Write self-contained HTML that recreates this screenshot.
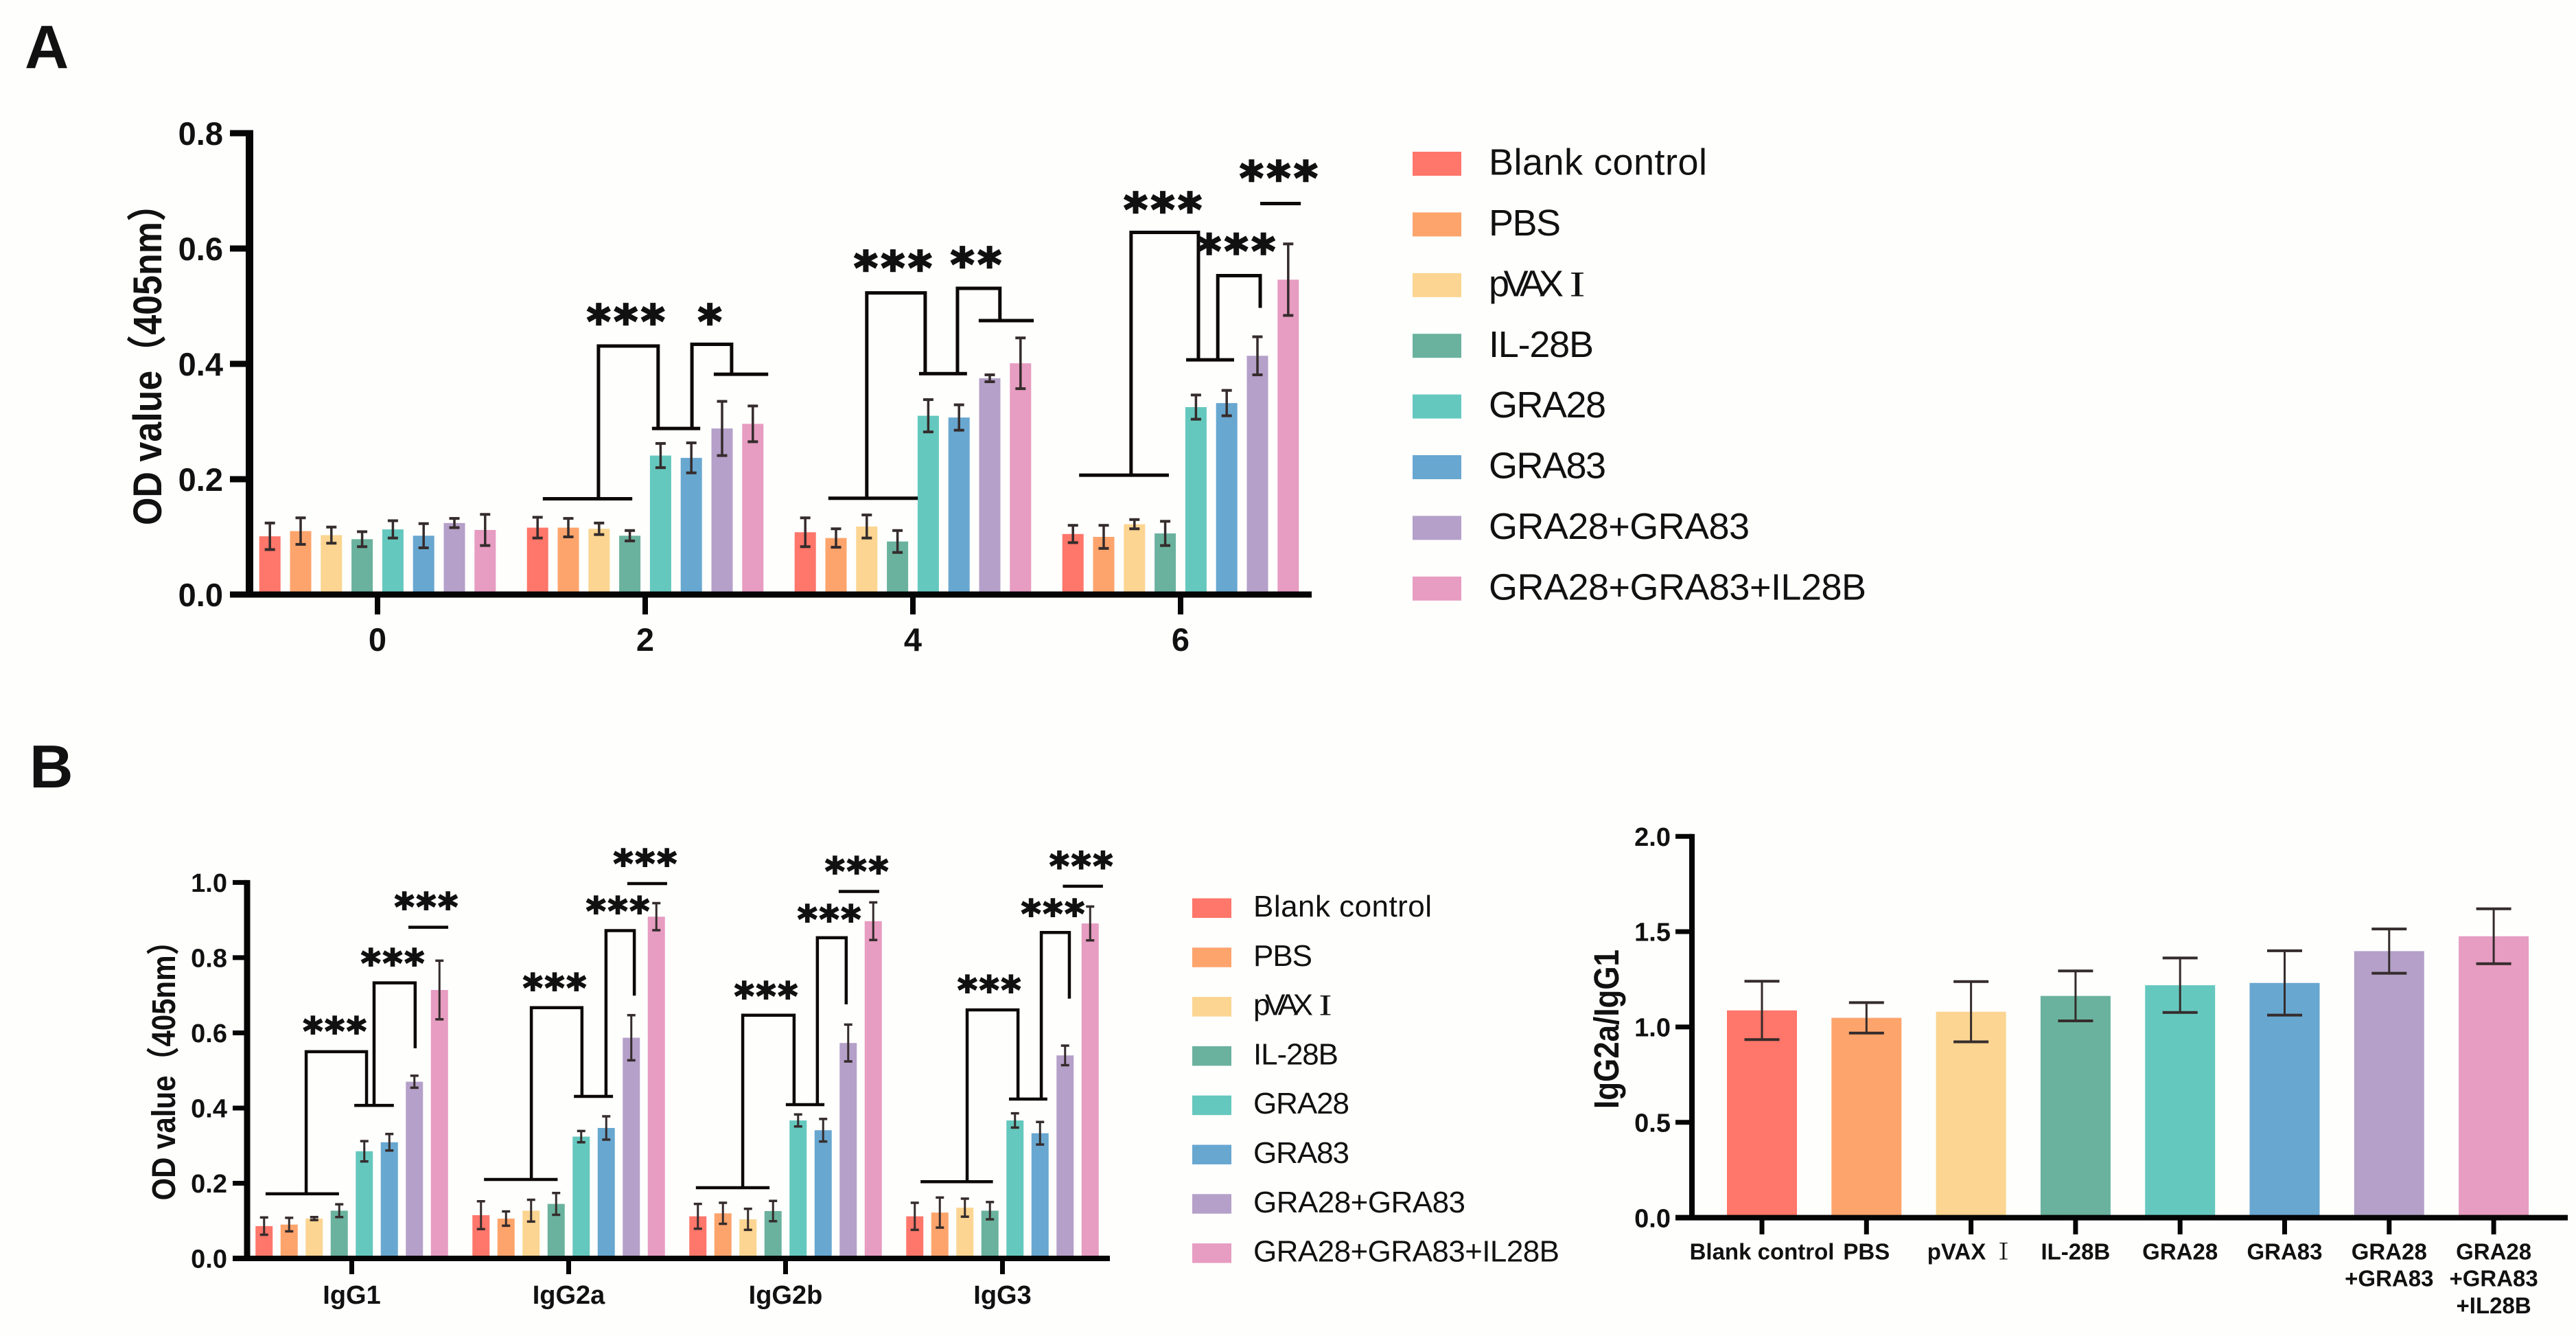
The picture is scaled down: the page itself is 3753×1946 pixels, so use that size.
<!DOCTYPE html>
<html lang="en">
<head>
<meta charset="utf-8">
<title>OD value bar charts</title>
<style>
html,body{margin:0;padding:0;background:#fefefd;}
svg{display:block;}
text{font-family:"Liberation Sans","Noto Sans CJK SC",sans-serif;fill:#111;}
.b{font-weight:bold;}
.la{font-size:54px;}
.lb{font-size:44px;}
.numeral{font-family:"Noto Serif CJK SC",serif;font-weight:bold;}
</style>
</head>
<body>
<svg id="figure" xmlns="http://www.w3.org/2000/svg" width="3753" height="1946" viewBox="0 0 3753 1946">
  <rect x="0" y="0" width="3753" height="1946" fill="#fefefd"/>
  <text class="b" x="36" y="99" font-size="89">A</text>
  <text class="b" x="43" y="1147" font-size="88">B</text>

  <text class="b" font-size="52" text-anchor="middle" transform="translate(235 518) rotate(-90) scale(1 1.12)">OD value（405nm）</text>
  <text class="b" font-size="42" text-anchor="middle" transform="translate(255 1549) rotate(-90) scale(1 1.15)">OD value（405nm）</text>
  <text class="b" font-size="44" text-anchor="middle" textLength="232" lengthAdjust="spacingAndGlyphs" transform="translate(2358 1499) rotate(-90) scale(1 1.15)">IgG2a/IgG1</text>

  <g>
    <rect x="2058" y="221" width="71" height="35" fill="#FF766A"/>
    <text class="la" x="2169" y="254.6" textLength="318">Blank control</text>
    <rect x="2058" y="309.4" width="71" height="35" fill="#FDA46C"/>
    <text class="la" x="2169" y="343" textLength="105">PBS</text>
    <rect x="2058" y="397.8" width="71" height="35" fill="#FBD591"/>
    <text class="la" x="2169" y="431.4" textLength="109">pVAX</text>
    <text class="numeral" font-size="46" text-anchor="middle" x="2298" y="431.4">Ⅰ</text>
    <rect x="2058" y="486.2" width="71" height="35" fill="#6AB29E"/>
    <text class="la" x="2169" y="519.8" textLength="153">IL-28B</text>
    <rect x="2058" y="574.6" width="71" height="35" fill="#65C8BE"/>
    <text class="la" x="2169" y="608.2" textLength="171">GRA28</text>
    <rect x="2058" y="663" width="71" height="35" fill="#68A7D0"/>
    <text class="la" x="2169" y="696.6" textLength="171">GRA83</text>
    <rect x="2058" y="751.4" width="71" height="35" fill="#B5A0C9"/>
    <text class="la" x="2169" y="785" textLength="380">GRA28+GRA83</text>
    <rect x="2058" y="839.8" width="71" height="35" fill="#E79CC1"/>
    <text class="la" x="2169" y="873.4" textLength="550">GRA28+GRA83+IL28B</text>
  </g>

  <g>
    <rect x="1737" y="1308.5" width="57" height="28.5" fill="#FF766A"/>
    <text class="lb" x="1826" y="1335" textLength="260">Blank control</text>
    <rect x="1737" y="1380.3" width="57" height="28.5" fill="#FDA46C"/>
    <text class="lb" x="1826" y="1406.8" textLength="86">PBS</text>
    <rect x="1737" y="1452.1" width="57" height="28.5" fill="#FBD591"/>
    <text class="lb" x="1826" y="1478.6" textLength="87">pVAX</text>
    <text class="numeral" font-size="38" text-anchor="middle" x="1931" y="1478.6">Ⅰ</text>
    <rect x="1737" y="1523.9" width="57" height="28.5" fill="#6AB29E"/>
    <text class="lb" x="1826" y="1550.4" textLength="124">IL-28B</text>
    <rect x="1737" y="1595.7" width="57" height="28.5" fill="#65C8BE"/>
    <text class="lb" x="1826" y="1622.2" textLength="140">GRA28</text>
    <rect x="1737" y="1667.5" width="57" height="28.5" fill="#68A7D0"/>
    <text class="lb" x="1826" y="1694" textLength="140">GRA83</text>
    <rect x="1737" y="1739.3" width="57" height="28.5" fill="#B5A0C9"/>
    <text class="lb" x="1826" y="1765.8" textLength="309">GRA28+GRA83</text>
    <rect x="1737" y="1811.1" width="57" height="28.5" fill="#E79CC1"/>
    <text class="lb" x="1826" y="1837.6" textLength="446">GRA28+GRA83+IL28B</text>
  </g>

  <g id="chart-a"></g>
  <g id="chart-b"></g>
  <g id="chart-c"></g>
</svg>

<script>
// ---- shared series palette ----
const palette = ['#FF766A','#FDA46C','#FBD591','#6AB29E','#65C8BE','#68A7D0','#B5A0C9','#E79CC1'];

// ---- chart A data ----
const aCategories = ['0','2','4','6'];
const aTicks = ['0.0','0.2','0.4','0.6','0.8'];
const aMeans0 = [.101,.110,.103,.096,.113,.102,.124,.112];
const aErrs0  = [.023,.023,.014,.013,.015,.021,.008,.027];
const aMeans2 = [.116,.116,.114,.102,.241,.237,.288,.296];
const aErrs2  = [.018,.016,.010,.009,.021,.026,.047,.031];
const aMeans4 = [.108,.098,.118,.092,.310,.307,.375,.401];
const aErrs4  = [.025,.016,.020,.019,.028,.022,.006,.044];
const aMeans6 = [.105,.100,.122,.106,.325,.332,.414,.546];
const aErrs6  = [.015,.020,.008,.021,.021,.022,.033,.062];

// significance annotations: [group, barFrom, barTo, value]
const aRules = [
  [1,-3.33,-.42,.166],[1,.22,1.79,.288],[1,2.23,4.0,.382],
  [2,-2.75,.16,.167],[2,.2,1.76,.383],[2,2.14,3.93,.475],
  [3,-3.3,-.38,.207],[3,.18,1.74,.407],[3,2.59,3.91,.678]
];
// [group, barLeft, barRight, topValue, leftEndValue, rightEndValue]
const aStaples = [
  [1,-1.52,.42,.431,.166,.288],[1,1.52,2.81,.434,.288,.382],
  [2,-1.5,.4,.523,.167,.383],[2,1.45,2.83,.531,.383,.475],
  [3,-1.61,.58,.628,.207,.407],[3,1.21,2.59,.553,.407,.497]
];
// [group, bar, value, label]
const aStars = [
  [1,-.63,.485,'***'],[1,2.1,.485,'*'],
  [2,-.65,.578,'***'],[2,2.05,.584,'**'],
  [3,-.58,.679,'***'],[3,1.81,.607,'***'],[3,3.19,.734,'***']
];

// ---- chart B data ----
const bCategories = ['IgG1','IgG2a','IgG2b','IgG3'];
const bTicks = ['0.0','0.2','0.4','0.6','0.8','1.0'];
const bMeansG1  = [.086,.090,.106,.127,.285,.309,.470,.714];
const bErrsG1   = [.023,.018,.004,.017,.027,.022,.016,.078];
const bMeansG2a = [.115,.106,.127,.145,.324,.347,.587,.909];
const bErrsG2a  = [.037,.019,.029,.029,.015,.031,.060,.036];
const bMeansG2b = [.112,.120,.104,.126,.367,.341,.573,.897];
const bErrsG2b  = [.033,.028,.028,.027,.016,.030,.049,.050];
const bMeansG3  = [.112,.122,.135,.127,.367,.333,.540,.891];
const bErrsG3   = [.036,.040,.024,.023,.019,.030,.026,.045];

const bRules = [
  [0,-3.44,-.51,.172],[0,.1,1.68,.407],[0,2.26,3.85,.881],
  [1,-3.38,-.44,.210],[1,.21,1.77,.431],[1,2.34,3.93,.997],
  [2,-3.58,-.64,.188],[2,.01,1.55,.409],[2,2.12,3.74,.976],
  [3,-3.27,-.38,.204],[3,.26,1.79,.424],[3,2.41,4.01,.990]
];
const bStaples = [
  [0,-1.82,.59,.550,.172,.407],[0,.89,2.53,.733,.407,.559],
  [1,-1.49,.53,.667,.210,.431],[1,1.49,2.62,.872,.431,.699],
  [2,-1.71,.34,.647,.188,.409],[2,1.27,2.42,.853,.409,.676],
  [3,-1.41,.62,.661,.204,.424],[3,1.55,2.67,.867,.424,.691]
];
const bStars = [
  [0,-.68,.619,'***'],[0,1.63,.800,'***'],[0,2.97,.950,'***'],
  [1,-.56,.734,'***'],[1,1.96,.939,'***'],[1,3.05,1.065,'***'],
  [2,-.78,.712,'***'],[2,1.74,.917,'***'],[2,2.84,1.045,'***'],
  [3,-.53,.729,'***'],[3,2.01,.931,'***'],[3,3.14,1.058,'***']
];

// ---- chart C data ----
const cCategories = [['Blank control'],['PBS'],['pVAX Ⅰ'],['IL-28B'],['GRA28'],['GRA83'],['GRA28','+GRA83'],['GRA28','+GRA83','+IL28B']];
const cTicks = ['0.0','0.5','1.0','1.5','2.0'];
const cMeans = [1.087,1.048,1.080,1.163,1.219,1.231,1.398,1.476];
const cErrs  = [.153,.080,.158,.131,.143,.169,.116,.144];

// ---- helpers ----
const NS = 'http://www.w3.org/2000/svg';
function mk(parent, tag, attrs, txt){
  const el = document.createElementNS(NS, tag);
  for (const k in attrs) el.setAttribute(k, attrs[k]);
  if (txt !== undefined) el.textContent = txt;
  parent.appendChild(el);
  return el;
}

function drawErrorBar(g, x, yHi, yLo, capW, lineW, capH){
  const stem = mk(g,'line',{x1:x,x2:x,y1:yHi,y2:yLo,stroke:'#352c2c','stroke-width':lineW});
  
  
  const top = mk(g,'line',{x1:x-capW/2,x2:x+capW/2,y1:yHi,y2:yHi,stroke:'#352c2c','stroke-width':capH});
  
  
  const bottom = mk(g,'line',{x1:x-capW/2,x2:x+capW/2,y1:yLo,y2:yLo,stroke:'#352c2c','stroke-width':capH});
  
  
}

function drawAxes(g, o, ticks, y){
  const yAxis = mk(g,'line',{x1:o.axisX,x2:o.axisX,y1:y(+ticks[ticks.length-1])-o.tickW/2,y2:o.y0,stroke:'#050505','stroke-width':o.axisW});
  
  
  ticks.forEach(function(t){
    const mark = mk(g,'line',{x1:o.tickL,x2:o.axisX,y1:y(+t),y2:y(+t),stroke:'#050505','stroke-width':o.tickW});
    
    
    const label = mk(g,'text',{x:o.labelR,y:y(+t)+o.tickFont*0.36,'text-anchor':'end','font-size':o.tickFont,'font-weight':'bold'},t);
    
    
  });
  const xAxis = mk(g,'line',{x1:o.tickL,x2:o.axisEnd,y1:o.y0,y2:o.y0,stroke:'#050505','stroke-width':o.xAxisW});
  
  
}

function drawGrouped(g, o, categories, ticks, meansByGroup, errsByGroup, rules, staples, stars){
  const y = function(v){ return o.y0 - v*o.unit; };
  const x = function(group, bar){ return o.x0 + group*o.groupStep + bar*o.barStep; };
  categories.forEach(function(cat, gi){
    meansByGroup[gi].forEach(function(v, i){
      const cx = x(gi, i-3.5);
      const bar = mk(g,'rect',{x:cx-o.barW/2,y:y(v),width:o.barW,height:o.y0-y(v),fill:palette[i]});
      
      
      const e = errsByGroup[gi][i];
      drawErrorBar(g, cx, y(v+e), y(v-e), o.capW, o.errW, o.errCap);
    });
    const tick = mk(g,'line',{x1:x(gi,0),x2:x(gi,0),y1:o.y0,y2:o.tickB,stroke:'#050505','stroke-width':o.xTickW});
    
    
    const label = mk(g,'text',{x:x(gi,0),y:o.catY,'text-anchor':'middle','font-size':o.tickFont,'font-weight':'bold'},cat);
    
    
  });
  drawAxes(g, o, ticks, y);
  rules.forEach(function(r){
    const rule = mk(g,'line',{x1:x(r[0],r[1]),x2:x(r[0],r[2]),y1:y(r[3]),y2:y(r[3]),stroke:'#0c0808','stroke-width':o.sigW});
    
    
  });
  staples.forEach(function(s){
    const pts = [[x(s[0],s[1]),y(s[4])],[x(s[0],s[1]),y(s[3])],[x(s[0],s[2]),y(s[3])],[x(s[0],s[2]),y(s[5])]];
    const staple = mk(g,'polyline',{points:pts.map(function(p){return p.join(',');}).join(' '),fill:'none',stroke:'#0c0808','stroke-width':o.sigW,'stroke-linejoin':'miter'});
    
    
  });
  stars.forEach(function(s){
    const star = mk(g,'text',{x:x(s[0],s[1])+o.starGap/2,y:y(s[2])+o.starFont*0.5,'text-anchor':'middle','font-size':o.starFont,'font-weight':'bold','letter-spacing':o.starGap,stroke:'#111','stroke-width':o.starStroke,style:'font-family:"DejaVu Sans",sans-serif'},s[3]);
    
    
  });
}

// ---- chart A ----
drawGrouped(document.getElementById('chart-a'), {
  x0:550, groupStep:390, barStep:44.8, barW:31, y0:866, unit:840,
  axisX:363.5, axisW:11, axisEnd:1911, xAxisW:9, tickL:335, tickW:9, xTickW:8, tickB:895,
  labelR:325, tickFont:47, catY:948, capW:15, errW:3.5, errCap:4, sigW:5, starFont:66, starGap:5, starStroke:2.5
}, aCategories, aTicks, [aMeans0,aMeans2,aMeans4,aMeans6], [aErrs0,aErrs2,aErrs4,aErrs6], aRules, aStaples, aStars);

// ---- chart B ----
drawGrouped(document.getElementById('chart-b'), {
  x0:512.5, groupStep:316, barStep:36.5, barW:25, y0:1833, unit:547.6,
  axisX:360, axisW:9, axisEnd:1617, xAxisW:8, tickL:339, tickW:7, xTickW:7, tickB:1856,
  labelR:331, tickFont:38, catY:1899, capW:12, errW:3, errCap:3.5, sigW:4.5, starFont:55, starGap:3, starStroke:2
}, bCategories, bTicks, [bMeansG1,bMeansG2a,bMeansG2b,bMeansG3], [bErrsG1,bErrsG2a,bErrsG2b,bErrsG3], bRules, bStaples, bStars);

// ---- chart C ----
(function(){
  const g = document.getElementById('chart-c');
  const o = {axisX:2465, axisW:8, axisEnd:3741, xAxisW:8, tickL:2441, tickW:7, labelR:2434, tickFont:38, y0:1773.6};
  const y = function(v){ return 1773.6 - v*277.7; };
  const x = function(i){ return 2567 + i*152.3; };
  cMeans.forEach(function(v, i){
    const bar = mk(g,'rect',{x:x(i)-51,y:y(v),width:102,height:o.y0-y(v),fill:palette[i]});
    
    
    drawErrorBar(g, x(i), y(v+cErrs[i]), y(v-cErrs[i]), 51, 3, 4);
    const tick = mk(g,'line',{x1:x(i),x2:x(i),y1:o.y0,y2:1798,stroke:'#050505','stroke-width':7});
    
    
    cCategories[i].forEach(function(line, li){
      const label = mk(g,'text',{x:x(i),y:1834.6+li*39.1,'text-anchor':'middle','font-size':33,'font-weight':'bold'});
      
      
      const pos = line.indexOf('Ⅰ');
      if (pos < 0) {
        label.textContent = line;
      } else {
        label.appendChild(document.createTextNode(line.slice(0, pos)));
        const numeral = mk(label,'tspan',{style:'font-family:"Noto Serif CJK SC",serif;font-weight:normal'},'Ⅰ');
        
        
      }
    });
  });
  drawAxes(g, o, cTicks, y);
})();
</script>
</body>
</html>
